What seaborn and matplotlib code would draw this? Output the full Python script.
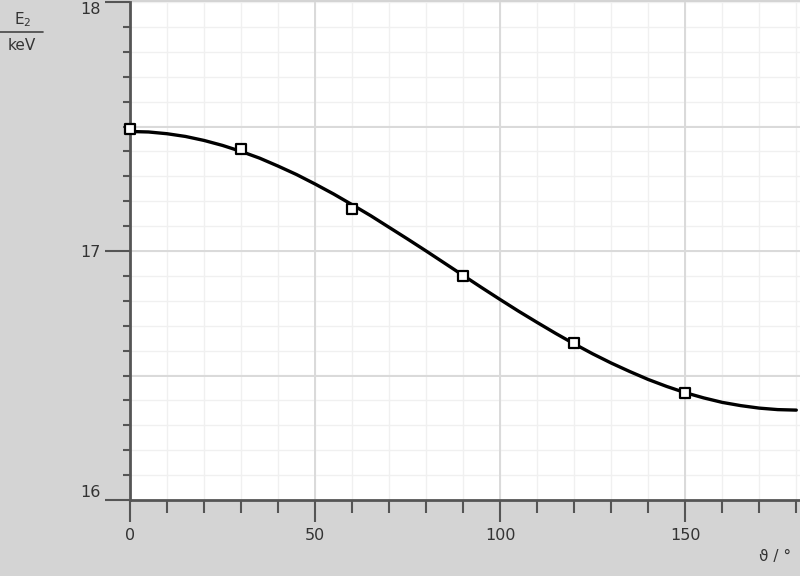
import numpy as np
import pandas as pd
import matplotlib
matplotlib.use('Agg')
import matplotlib.pyplot as plt
import seaborn as sns
from matplotlib.ticker import MultipleLocator, FixedLocator

# measured points (scattering angle in degrees, energy in keV)
angle_meas = [0, 30, 60, 90, 120, 150]
energy_meas = [17.49, 17.41, 17.17, 16.90, 16.63, 16.43]

# curve every 5 degrees
angle_curve = [0, 5, 10, 15, 20, 25, 30, 35, 40, 45, 50, 55, 60, 65, 70, 75, 80, 85, 90,
               95, 100, 105, 110, 115, 120, 125, 130, 135, 140, 145, 150, 155, 160, 165, 170, 175, 180]
energy_curve = [17.480, 17.478, 17.471, 17.460, 17.444, 17.424, 17.400, 17.373, 17.341, 17.307,
                17.269, 17.229, 17.186, 17.142, 17.095, 17.048, 17.000, 16.951, 16.902,
                16.853, 16.805, 16.758, 16.713, 16.669, 16.627, 16.587, 16.550, 16.516,
                16.484, 16.456, 16.431, 16.410, 16.392, 16.379, 16.369, 16.363, 16.361]

y_major = [16, 17, 18]
x_major = [0, 50, 100, 150]

meas = pd.DataFrame({'angle': angle_meas, 'energy': energy_meas})
curve = pd.DataFrame({'angle': angle_curve, 'energy': energy_curve})

sns.set_style('white')
plt.rcParams['font.family'] = ['DejaVu Sans']

bg = '#d4d4d4'
fig = plt.figure(figsize=(8, 5.76), dpi=100, facecolor=bg)
ax = fig.add_axes([130 / 800, 1 - 500 / 576, 670 / 800, 498 / 576])
ax.set_facecolor('white')

ax.set_xlim(0, 181)
ax.set_ylim(16, 18)

# grid: light every 10 deg / 0.1 keV, darker every 50 deg / 0.5 keV
ax.xaxis.set_minor_locator(MultipleLocator(10))
ax.yaxis.set_minor_locator(MultipleLocator(0.1))
ax.xaxis.set_major_locator(FixedLocator(x_major))
ax.yaxis.set_major_locator(FixedLocator(y_major))
for v in np.arange(0, 181, 10):
    ax.axvline(v, color='#f0f0f0', lw=1, zorder=0)
for v in np.arange(16, 18.01, 0.1):
    ax.axhline(v, color='#f0f0f0', lw=1, zorder=0)
for v in [50, 100, 150]:
    ax.axvline(v, color='#dadada', lw=1.4, zorder=0.5)
for v in [16.5, 17, 17.5]:
    ax.axhline(v, color='#dadada', lw=1.4, zorder=0.5)

sns.lineplot(data=curve, x='angle', y='energy', ax=ax, color='black', lw=2.4, zorder=3)
sns.scatterplot(data=meas, x='angle', y='energy', ax=ax, marker='s', s=55,
                facecolor='white', edgecolor='black', linewidth=1.6, zorder=4, clip_on=False)

for side in ['top', 'right']:
    ax.spines[side].set_visible(False)
for side in ['left', 'bottom']:
    ax.spines[side].set_color('#555555')
    ax.spines[side].set_linewidth(2)

# tick lengths in points (px * 0.72)
ax.tick_params(which='both', bottom=True, left=True)
ax.tick_params(axis='x', which='major', direction='out', length=16, width=1.5, color='#555555',
               labelsize=11.5, labelcolor='#333333', pad=4)
ax.tick_params(axis='x', which='minor', direction='out', length=9.5, width=1.5, color='#555555')
ax.tick_params(axis='y', which='major', direction='out', length=18, width=1.5, color='#555555',
               labelsize=11.5, labelcolor='#333333', pad=3)
ax.tick_params(axis='y', which='minor', direction='out', length=5, width=1.5, color='#555555')

ax.set_xticklabels([str(v) for v in x_major])
ax.set_yticklabels([str(v) for v in y_major])
labels = ax.get_yticklabels()
labels[0].set_va('bottom')
labels[2].set_va('top')

ax.set_xlabel('')
ax.set_ylabel('')

# y axis label as a fraction E2 / keV
fig.text(23 / 800, 1 - 20 / 576, 'E$_2$', fontsize=11, color='#333333', ha='center', va='center')
fig.text(22 / 800, 1 - 46 / 576, 'keV', fontsize=11, color='#333333', ha='center', va='center')
fig.add_artist(plt.Line2D([0, 43 / 800], [1 - 32 / 576, 1 - 32 / 576], color='#444444', lw=1.2))

fig.text(775 / 800, 1 - 557 / 576, 'ϑ / °', fontsize=11, color='#333333', ha='center', va='center')

fig.savefig('out.png', dpi=100, facecolor=bg)
